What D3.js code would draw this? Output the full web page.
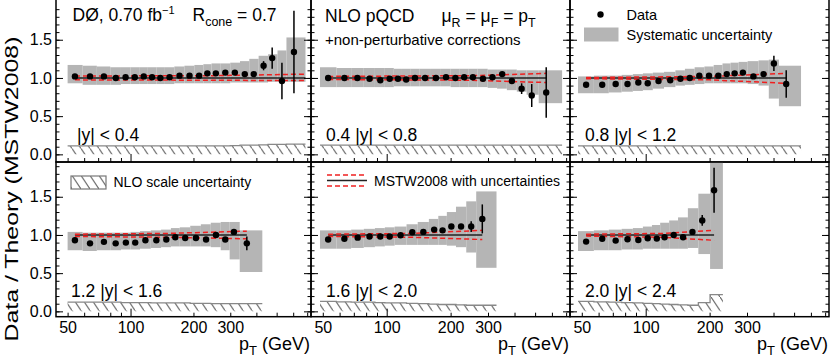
<!DOCTYPE html>
<html>
<head>
<meta charset="utf-8">
<title>Data / Theory (MSTW2008)</title>
<script src="https://cdn.jsdelivr.net/npm/d3@7"></script>
<style>
  body { margin: 0; background: #fff; }
  svg { font-family: "Liberation Sans", Arial, Helvetica, sans-serif; }
  .lab { font-size: 17.5px; }
  .leg { font-size: 14.5px; }
  .axlab text { font-size: 16px; fill: #000; }
</style>
</head>
<body>
<script>
// rapidity regions
var regions = ["|y| < 0.4", "0.4 |y| < 0.8", "0.8 |y| < 1.2", "1.2 |y| < 1.6", "1.6 |y| < 2.0", "2.0 |y| < 2.4"];

// |y| < 0.4
var edges_y04 = [50,59,69,80,90,100,110,121,133,146,162,181,202,223,244,270,300,334,370,410,455,505,557,687];
var pt_y04    = [54.2,64,74.6,85,94.7,104.8,115.7,126.8,138.9,153.7,171.5,191.5,212.9,233,256,284,315.6,352,388.6,433,476,530,605];
var ratio_y04 = [1.02,1.02,1.02,1.00,1.01,1.01,1.02,1.01,1.00,1.01,1.03,1.03,1.03,1.06,1.06,1.07,1.07,1.05,1.05,1.16,1.26,0.96,1.34];
var stat_y04  = [0,0,0,0,0,0,0,0,0,0,0,0,0.006,0.007,0.008,0.01,0.012,0.015,0.02,0.06,0.14,0.24,0.54];
var sysLo_y04 = [0.93,0.91,0.91,0.91,0.92,0.92,0.92,0.92,0.92,0.92,0.93,0.93,0.93,0.93,0.93,0.93,0.94,0.94,0.94,0.94,0.95,0.95,0.95];
var sysHi_y04 = [1.17,1.16,1.15,1.14,1.14,1.14,1.14,1.14,1.14,1.14,1.15,1.16,1.17,1.18,1.19,1.19,1.20,1.22,1.25,1.29,1.31,1.36,1.53];
var scale_y04 = [0.11,0.11,0.11,0.11,0.11,0.11,0.11,0.11,0.11,0.11,0.11,0.11,0.11,0.11,0.11,0.11,0.115,0.12,0.12,0.125,0.13,0.13,0.135];
var pdfPt_y04 = [54.2,250,687];
var pdfUp_y04 = [1.025,1.03,1.05];
var pdfDn_y04 = [0.975,0.97,0.965];

// 0.4 < |y| < 0.8
var edges_y08 = [48.5,58,68,78,88,98,108,118,129,143,160,180,200,221,242,268,299,331,368,410,456,520,670];
var pt_y08    = [53,63.2,72.8,83,93.3,103.3,113,123.5,135.9,151.6,170.6,190.3,210.6,231.6,254.6,284,314.8,349.9,388.6,432,482,564];
var ratio_y08 = [1.00,1.00,1.00,0.99,0.97,0.99,0.99,0.98,1.00,1.00,1.00,1.01,1.00,1.01,1.01,0.99,1.01,1.05,0.96,0.86,0.77,0.81];
var stat_y08  = [0,0,0,0,0,0,0,0,0,0,0,0,0,0,0.006,0.008,0.01,0.02,0.02,0.07,0.15,0.33];
var sysLo_y08 = [0.88,0.88,0.88,0.88,0.88,0.88,0.89,0.89,0.89,0.89,0.89,0.89,0.88,0.88,0.88,0.88,0.87,0.86,0.84,0.82,0.78,0.67];
var sysHi_y08 = [1.14,1.13,1.13,1.13,1.13,1.13,1.12,1.12,1.12,1.12,1.12,1.12,1.12,1.12,1.12,1.12,1.11,1.11,1.11,1.10,1.10,1.10];
var scale_y08 = [0.12,0.12,0.12,0.12,0.12,0.12,0.12,0.12,0.12,0.12,0.12,0.12,0.12,0.12,0.12,0.12,0.12,0.12,0.12,0.12,0.12,0.12];
var pdfPt_y08 = [53,250,564];
var pdfUp_y08 = [1.02,1.03,1.06];
var pdfDn_y08 = [0.98,0.97,0.94];

// 0.8 < |y| < 1.2
var edges_y12 = [48,57,67,77,87,97,108,122,138,153,170,189,209,230,251,274,302,340,380,424,539];
var pt_y12    = [52.4,62.4,72.2,82.1,92.3,102.2,114.9,130.5,145.7,161.2,178.8,198.7,219.8,240.9,262.4,287,321.6,359,401.6,459];
var ratio_y12 = [0.91,0.91,0.92,0.92,0.94,0.93,0.96,0.97,0.99,1.00,1.03,1.03,1.03,1.05,1.06,1.07,1.02,1.05,1.19,0.92];
var stat_y12  = [0,0,0,0,0,0,0,0,0,0,0,0,0,0.006,0.008,0.01,0.012,0.03,0.1,0.18];
var sysLo_y12 = [0.80,0.80,0.81,0.82,0.83,0.84,0.86,0.88,0.90,0.91,0.92,0.93,0.93,0.93,0.93,0.93,0.92,0.90,0.73,0.63];
var sysHi_y12 = [1.02,1.03,1.03,1.04,1.05,1.06,1.07,1.08,1.10,1.12,1.14,1.15,1.17,1.19,1.20,1.21,1.22,1.23,1.24,1.16];
var scale_y12 = [0.11,0.11,0.11,0.11,0.11,0.11,0.11,0.11,0.11,0.11,0.11,0.11,0.11,0.11,0.11,0.11,0.11,0.11,0.11,0.11];
var pdfPt_y12 = [52.4,200,459];
var pdfUp_y12 = [1.005,1.02,1.06];
var pdfDn_y12 = [0.99,0.975,0.93];

// 1.2 < |y| < 1.6
var edges_y16 = [50,59,69,80,90,100,111,125,140,156,172,193,217,242,270,298,333,427];
var pt_y16    = [54.2,64,74.6,84.9,95,105.3,117.8,132.9,148.3,163.7,182.6,205.5,229.8,256.3,283.9,312.3,360];
var ratio_y16 = [0.93,0.89,0.91,0.89,0.90,0.90,0.93,0.93,0.94,0.97,0.96,0.96,0.94,1.00,0.94,1.04,0.89];
var stat_y16  = [0,0,0,0,0,0,0,0,0,0,0.006,0.008,0.01,0.01,0.012,0.03,0.09];
var sysLo_y16 = [0.80,0.79,0.80,0.80,0.81,0.81,0.82,0.83,0.84,0.85,0.85,0.85,0.85,0.84,0.80,0.68,0.515];
var sysHi_y16 = [1.04,1.03,1.03,1.03,1.03,1.04,1.05,1.06,1.07,1.09,1.10,1.12,1.14,1.16,1.17,1.17,1.06];
var scale_y16 = [0.12,0.12,0.12,0.12,0.115,0.115,0.115,0.11,0.11,0.11,0.11,0.105,0.105,0.10,0.10,0.10,0.10];
var pdfPt_y16 = [54.2,150,360];
var pdfUp_y16 = [1.01,1.02,1.05];
var pdfDn_y16 = [0.98,0.97,0.95];

// 1.6 < |y| < 2.0
var edges_y20 = [48.5,58,68,78,88,98,109,124,140,158,175,192,212,237,264,329];
var pt_y20    = [53,63.2,73,83,93.3,103.3,116.2,132,148.8,167.3,183.3,201.6,224,250,282];
var ratio_y20 = [0.94,0.95,0.965,0.98,0.98,0.98,0.996,1.035,1.04,1.07,1.06,1.11,1.11,1.11,1.21];
var stat_y20  = [0,0,0,0,0,0,0,0.006,0.008,0.01,0.01,0.012,0.015,0.07,0.19];
var sysLo_y20 = [0.82,0.82,0.83,0.84,0.85,0.86,0.87,0.87,0.87,0.87,0.87,0.86,0.84,0.77,0.57];
var sysHi_y20 = [1.06,1.06,1.07,1.08,1.09,1.10,1.11,1.14,1.17,1.21,1.25,1.30,1.37,1.44,1.57];
var scale_y20 = [0.13,0.125,0.12,0.12,0.115,0.11,0.11,0.105,0.10,0.095,0.09,0.09,0.085,0.08,0.08];
var pdfPt_y20 = [53,130,282];
var pdfUp_y20 = [1.01,1.02,1.06];
var pdfDn_y20 = [0.98,0.97,0.94];

// 2.0 < |y| < 2.4
var edges_y24 = [48,57,67,77,87,97,107,117,129,142,158,177,201,231];
var pt_y24    = [52.4,62.4,72.2,82.1,92.3,102.2,112.8,122.7,135.5,150,166,184.6,209.9];
var ratio_y24 = [0.913,0.95,0.926,0.943,0.934,0.956,0.952,0.97,1.00,0.97,1.04,1.19,1.585];
var stat_y24  = [0,0,0,0,0,0,0,0,0.006,0.01,0.015,0.07,0.295];
var sysLo_y24 = [0.79,0.80,0.80,0.81,0.81,0.82,0.82,0.82,0.82,0.82,0.83,0.75,0.555];
var sysHi_y24 = [1.05,1.06,1.07,1.08,1.09,1.11,1.13,1.16,1.19,1.23,1.35,1.54,1.95];
var scale_y24 = [0.13,0.125,0.12,0.115,0.11,0.105,0.10,0.095,0.09,0.085,0.08,0.115,0.22];
var pdfPt_y24 = [52.4,120,209.9];
var pdfUp_y24 = [1.01,1.02,1.06];
var pdfDn_y24 = [0.985,0.97,0.93];

var xTickLabels = [50, 100, 200, 300];
var xMinorTicks = [50, 60, 70, 80, 90, 200, 300, 400, 500, 600, 700];
var yTickLabels = [0, 0.5, 1.0, 1.5];

var panels = [
  {pt:pt_y04, ratio:ratio_y04, stat:stat_y04, lo:sysLo_y04, hi:sysHi_y04, edges:edges_y04, scale:scale_y04, pdfPt:pdfPt_y04, up:pdfUp_y04, dn:pdfDn_y04},
  {pt:pt_y08, ratio:ratio_y08, stat:stat_y08, lo:sysLo_y08, hi:sysHi_y08, edges:edges_y08, scale:scale_y08, pdfPt:pdfPt_y08, up:pdfUp_y08, dn:pdfDn_y08},
  {pt:pt_y12, ratio:ratio_y12, stat:stat_y12, lo:sysLo_y12, hi:sysHi_y12, edges:edges_y12, scale:scale_y12, pdfPt:pdfPt_y12, up:pdfUp_y12, dn:pdfDn_y12},
  {pt:pt_y16, ratio:ratio_y16, stat:stat_y16, lo:sysLo_y16, hi:sysHi_y16, edges:edges_y16, scale:scale_y16, pdfPt:pdfPt_y16, up:pdfUp_y16, dn:pdfDn_y16},
  {pt:pt_y20, ratio:ratio_y20, stat:stat_y20, lo:sysLo_y20, hi:sysHi_y20, edges:edges_y20, scale:scale_y20, pdfPt:pdfPt_y20, up:pdfUp_y20, dn:pdfDn_y20},
  {pt:pt_y24, ratio:ratio_y24, stat:stat_y24, lo:sysLo_y24, hi:sysHi_y24, edges:edges_y24, scale:scale_y24, pdfPt:pdfPt_y24, up:pdfUp_y24, dn:pdfDn_y24}
];

var width = 831, height = 360;
var cols = [[56, 311], [311, 570], [570, 829]];
var rows = [[0, 162], [162, 316.7]];
var yDomains = [[-0.1, 2.02], [-0.07, 1.955]];
var bandColor = "#b5b5b5", redColor = "#f02020", hatchColor = "#666";

var svg = d3.select("body").append("svg")
  .attr("width", width).attr("height", height);

// hatch pattern for NLO scale uncertainty
var pat = svg.append("defs").append("pattern")
  .attr("id", "hatch").attr("patternUnits", "userSpaceOnUse")
  .attr("width", 9).attr("height", 13.5);
pat.append("path").attr("d", "M-1,-1.5 L10,15 M-10,-15 L1,1.5 M8,12 L19,28.5")
  .attr("stroke", hatchColor).attr("stroke-width", 1.2);

panels.forEach(function(p, i) {
  var c = cols[i % 3], r = rows[Math.floor(i / 3)];
  var x = d3.scaleLog().domain([44, 730]).range(c);
  var y = d3.scaleLinear().domain(yDomains[Math.floor(i / 3)]).range([r[1], r[0]]);
  var g = svg.append("g");

  // systematic band
  g.selectAll(".sys").data(p.lo).enter().append("rect")
    .attr("x", function(d, j) { return x(p.edges[j]); })
    .attr("width", function(d, j) { return x(p.edges[j + 1]) - x(p.edges[j]); })
    .attr("y", function(d, j) { return y(p.hi[j]); })
    .attr("height", function(d, j) { return y(p.lo[j]) - y(p.hi[j]); })
    .attr("fill", bandColor);

  // NLO scale uncertainty (hatched)
  var steps = p.scale.map(function(v, j) { return [p.edges[j], v]; });
  steps.push([p.edges[p.edges.length - 1], p.scale[p.scale.length - 1]]);
  g.append("path").datum(steps)
    .attr("d", d3.area().curve(d3.curveStepAfter)
      .x(function(d) { return x(d[0]); }).y0(y(0)).y1(function(d) { return y(d[1]); }))
    .attr("fill", "url(#hatch)");
  g.append("path").datum(steps)
    .attr("d", d3.line().curve(d3.curveStepAfter)
      .x(function(d) { return x(d[0]); }).y(function(d) { return y(d[1]); }))
    .attr("fill", "none").attr("stroke", "#888").attr("stroke-width", 1.3);

  // theory lines
  var line = d3.line().x(function(d) { return x(d[0]); }).y(function(d) { return y(d[1]); });
  g.append("path").datum(p.pdfPt.map(function(t) { return [t, 1]; }))
    .attr("d", line).attr("fill", "none").attr("stroke", "#222").attr("stroke-width", 1.5);
  [p.up, p.dn].forEach(function(arr) {
    g.append("path").datum(p.pdfPt.map(function(t, j) { return [t, arr[j]]; }))
      .attr("d", line).attr("fill", "none").attr("stroke", redColor)
      .attr("stroke-width", 1.5).attr("stroke-dasharray", "5,3");
  });

  // data
  g.selectAll(".err").data(p.ratio).enter().append("line")
    .attr("x1", function(d, j) { return x(p.pt[j]); })
    .attr("x2", function(d, j) { return x(p.pt[j]); })
    .attr("y1", function(d, j) { return y(d - p.stat[j]); })
    .attr("y2", function(d, j) { return y(d + p.stat[j]); })
    .attr("stroke", "#000").attr("stroke-width", 1.5);
  g.selectAll(".pt").data(p.ratio).enter().append("circle")
    .attr("cx", function(d, j) { return x(p.pt[j]); })
    .attr("cy", function(d) { return y(d); })
    .attr("r", 3.2).attr("fill", "#000");

  // frame
  g.append("rect").attr("x", c[0]).attr("y", i < 3 ? -1 : r[0])
    .attr("width", c[1] - c[0]).attr("height", r[1] - (i < 3 ? -1 : r[0]))
    .attr("fill", "none").attr("stroke", "#000").attr("stroke-width", 1.5);

  // y ticks, inward on both sides
  var yMinor = d3.range(0, 2.0, 0.1).filter(function(v) { return y(v) > r[0] + 2; });
  [[d3.axisRight, c[0]], [d3.axisLeft, c[1]]].forEach(function(a) {
    g.append("g").attr("transform", "translate(" + a[1] + ",0)")
      .call(a[0](y).tickValues(yMinor).tickSize(3.5).tickFormat(""))
      .call(function(s) { s.select(".domain").remove(); });
    g.append("g").attr("transform", "translate(" + a[1] + ",0)")
      .call(a[0](y).tickValues(yTickLabels).tickSize(7).tickFormat(""))
      .call(function(s) { s.select(".domain").remove(); });
  });

  // x ticks, inward
  g.append("g").attr("transform", "translate(0," + r[1] + ")")
    .call(d3.axisTop(x).tickValues(xMinorTicks).tickSize(4).tickFormat(""))
    .call(function(s) { s.select(".domain").remove(); });
  g.append("g").attr("transform", "translate(0," + r[1] + ")")
    .call(d3.axisTop(x).tickValues([100]).tickSize(8).tickFormat(""))
    .call(function(s) { s.select(".domain").remove(); });

  // tick labels
  if (i >= 3) {
    g.append("g").attr("class", "axlab").attr("transform", "translate(0," + r[1] + ")")
      .call(d3.axisBottom(x).tickValues(xTickLabels).tickSize(0).tickPadding(5).tickFormat(d3.format("d")))
      .call(function(s) { s.select(".domain").remove(); s.selectAll("text").attr("font-family", null); });
    var t = g.append("text").attr("x", c[1] - 1).attr("y", 350)
      .attr("text-anchor", "end").style("font-size", "18px");
    t.append("tspan").text("p");
    t.append("tspan").text("T").style("font-size", "13px").attr("dy", 5);
    t.append("tspan").text(" (GeV)").attr("dy", -5);
  }
  if (i % 3 === 0) {
    g.append("g").attr("class", "axlab").attr("transform", "translate(" + c[0] + ",0)")
      .call(d3.axisLeft(y).tickValues(yTickLabels).tickSize(0).tickPadding(4).tickFormat(d3.format(".1f")))
      .call(function(s) { s.select(".domain").remove(); s.selectAll("text").attr("font-family", null); });
  }

  // region label
  g.append("text").attr("class", "lab")
    .attr("x", i === 0 ? 77 : c[0] + 15).attr("y", i < 3 ? 140.5 : 296.7)
    .text(regions[i]);
});

// y-axis title
svg.append("text").attr("transform", "translate(17.5,189) rotate(-90)")
  .attr("text-anchor", "middle").style("font-size", "19px")
  .attr("textLength", 305).attr("lengthAdjust", "spacingAndGlyphs")
  .text("Data / Theory (MSTW2008)");

// top-left labels
var t1 = svg.append("text").attr("class", "lab").attr("x", 72.5).attr("y", 21);
t1.append("tspan").text("DØ, 0.70 fb");
t1.append("tspan").text("−1").style("font-size", "11px").attr("dy", -7);
var t2 = svg.append("text").attr("class", "lab").attr("x", 192.5).attr("y", 21);
t2.append("tspan").text("R");
t2.append("tspan").text("cone").style("font-size", "12.5px").attr("dy", 5);
t2.append("tspan").text(" = 0.7").attr("dy", -5);

// top-middle labels
svg.append("text").attr("class", "lab").attr("x", 325).attr("y", 21.5).text("NLO pQCD");
var t3 = svg.append("text").attr("class", "lab").attr("x", 441.5).attr("y", 21.5);
t3.append("tspan").text("μ");
t3.append("tspan").text("R").style("font-size", "12.5px").attr("dy", 5);
t3.append("tspan").text(" = μ").attr("dy", -5);
t3.append("tspan").text("F").style("font-size", "12.5px").attr("dy", 5);
t3.append("tspan").text(" = p").attr("dy", -5);
t3.append("tspan").text("T").style("font-size", "12.5px").attr("dy", 5);
svg.append("text").attr("x", 325).attr("y", 45).style("font-size", "15px")
  .text("+non-perturbative corrections");

// legend: data and systematic uncertainty
svg.append("circle").attr("cx", 600.5).attr("cy", 14.5).attr("r", 3.2).attr("fill", "#000");
svg.append("text").attr("class", "leg").attr("x", 626.5).attr("y", 20).text("Data");
svg.append("rect").attr("x", 584).attr("y", 27.5).attr("width", 34.5).attr("height", 14).attr("fill", bandColor);
svg.append("text").attr("class", "leg").attr("x", 626.5).attr("y", 39.5).text("Systematic uncertainty");

// legend: NLO scale uncertainty
svg.append("rect").attr("x", 71).attr("y", 176).attr("width", 35).attr("height", 13)
  .attr("fill", "url(#hatch)").attr("stroke", "#777").attr("stroke-width", 1.2);
svg.append("text").attr("class", "leg").attr("x", 113.5).attr("y", 187).style("font-size", "14px")
  .text("NLO scale uncertainty");

// legend: MSTW2008 with uncertainties
[[175, redColor, "5,3"], [180.5, "#222", null], [186, redColor, "5,3"]].forEach(function(l) {
  svg.append("line").attr("x1", 327).attr("x2", 367).attr("y1", l[0]).attr("y2", l[0])
    .attr("stroke", l[1]).attr("stroke-width", 1.5).attr("stroke-dasharray", l[2]);
});
svg.append("text").attr("class", "leg").attr("x", 374).attr("y", 185.5).style("font-size", "14px")
  .text("MSTW2008 with uncertainties");
</script>
</body>
</html>
